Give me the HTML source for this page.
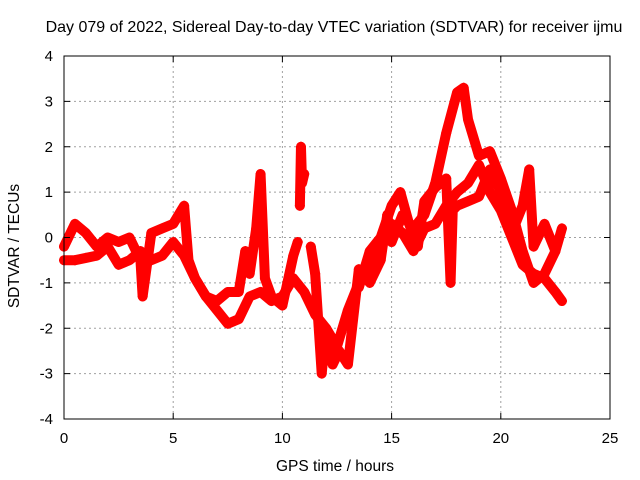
<!DOCTYPE html>
<html><head><meta charset="utf-8"><style>
body{margin:0;background:#fff;}
svg{display:block;font-family:"Liberation Sans",sans-serif;}
</style></head><body>
<svg id="chart" width="640" height="480" viewBox="0 0 640 480">
<text x="334" y="32" font-size="16" text-anchor="middle">Day 079 of 2022, Sidereal Day-to-day VTEC variation (SDTVAR) for receiver ijmu</text>
<g id="grid"></g>
<g id="series"></g>
<rect x="64" y="56" width="546" height="363" fill="none" stroke="#000" stroke-width="1"/>
<g id="ticks"></g>
<text x="335" y="471" font-size="15.5" text-anchor="middle">GPS time / hours</text>
<text transform="translate(19,246) rotate(-90)" font-size="15.5" text-anchor="middle">SDTVAR / TECUs</text>
</svg>
<script>
const xTicks=[0,5,10,15,20,25];
const yTicks=[-4,-3,-2,-1,0,1,2,3,4];
const trackAHours=[0,0.5,1,1.5,2,2.5,3,3.5,4,4.5,5,5.5,6,6.5,7,7.5,8,8.5,9,9.5,10,10.5,11,11.5,12,12.5,13,13.5,14,14.5,15,15.5,16,16.5,17,17.5,18,18.5,19,19.5,20,20.5,21,21.5,22,22.5,22.8];
const trackAValues=[-0.5,-0.5,-0.45,-0.4,-0.2,-0.6,-0.5,-0.3,-0.5,-0.4,-0.1,-0.4,-0.9,-1.3,-1.6,-1.9,-1.8,-1.3,-1.2,-1.4,-1.3,-0.9,-1.2,-1.7,-2.0,-2.4,-1.6,-1.0,-0.6,-0.2,0.3,0.1,-0.3,0.2,0.3,0.7,1.0,1.2,1.6,1.0,0.6,0.0,-0.6,-0.8,-0.9,-1.2,-1.4];
const trackBHours=[0,0.5,1,1.5,2,2.5,3,3.5,3.6,4,4.5,5,5.5,5.7,6,6.5,7,7.5,8,8.3,8.5,8.8,9,9.2,9.5,10,10.5,10.7];
const trackBValues=[-0.2,0.3,0.1,-0.2,0.0,-0.1,0.0,-0.5,-1.3,0.1,0.2,0.3,0.7,-0.5,-0.9,-1.3,-1.4,-1.2,-1.2,-0.3,-0.8,0.2,1.4,-0.9,-1.3,-1.5,-0.4,-0.1];
const trackCHours=[10.8,10.85,10.9,11.0];
const trackCValues=[0.7,2.0,1.2,1.4];
const trackDHours=[11.3,11.5,11.8,12,12.3,12.6,13,13.5,14,14.5,14.8,15,15.5,16,16.5,17,17.5,18,18.3,18.5,19,19.5,20,20.5,21,21.5,22,22.5,22.8];
const trackDValues=[-0.2,-0.8,-3.0,-2.0,-2.8,-2.5,-2.8,-0.7,-1.0,-0.5,0.5,-0.1,0.5,0.2,0.5,1.2,2.3,3.2,3.3,2.6,1.8,1.9,1.3,0.6,-0.3,-1.0,-0.8,-0.3,0.2];
const trackEHours=[13.5,14,14.5,15,15.4,15.8,16.2,16.5,17,17.5,17.7,17.8,18,18.5,19,19.5,20,20.5,21,21.3,21.5,22,22.5];
const trackEValues=[-1.1,-0.3,0.0,0.7,1.0,0.3,-0.2,0.8,1.1,1.3,-1.0,0.6,0.7,0.8,0.9,1.5,1.0,0.1,0.7,1.5,-0.2,0.3,-0.3];
const NS='http://www.w3.org/2000/svg';
const X0=64,X1=610,Y0=419,Y1=56;
function sx(h){return X0+(h-0)/25*(X1-X0);}
function sy(v){return Y0-(v+4)/8*(Y0-Y1);}
function mk(tag,attrs,parent){const e=document.createElementNS(NS,tag);for(const k in attrs)e.setAttribute(k,attrs[k]);parent.appendChild(e);return e;}
const grid=document.getElementById('grid'),ticks=document.getElementById('ticks'),ser=document.getElementById('series');
xTicks.forEach(t=>{
  const x=sx(t);
  if(t>0&&t<25){const l=mk('line',{x1:x,x2:x,y1:Y1,y2:Y0,stroke:'#a0a0a0','stroke-dasharray':'2,3'},grid);
  
  }
  mk('line',{x1:x,x2:x,y1:Y0,y2:Y0-6,stroke:'#000'},ticks);
  mk('line',{x1:x,x2:x,y1:Y1,y2:Y1+6,stroke:'#000'},ticks);
  const tx=mk('text',{x:x,y:Y0+24,'font-size':'15','text-anchor':'middle'},ticks);
  tx.textContent=t;
  
  
});
yTicks.forEach(t=>{
  const y=sy(t);
  if(t>-4&&t<4){const l=mk('line',{x1:X0,x2:X1,y1:y,y2:y,stroke:'#a0a0a0','stroke-dasharray':'2,3'},grid);
  
  }
  mk('line',{x1:X0,x2:X0+6,y1:y,y2:y,stroke:'#000'},ticks);
  mk('line',{x1:X1,x2:X1-6,y1:y,y2:y,stroke:'#000'},ticks);
  const tx=mk('text',{x:X0-11,y:y+5,'font-size':'15','text-anchor':'end'},ticks);
  tx.textContent=t;
  
  
});
function track(hs,vs,name){
  const g=mk('g',{},ser);
  
  
  const pts=hs.map((h,i)=>sx(h)+','+sy(vs[i])).join(' ');
  mk('polyline',{points:pts,fill:'none',stroke:'#ff0000','stroke-width':'10','stroke-linejoin':'round','stroke-linecap':'round'},g);
  hs.forEach((h,i)=>{
    const x=sx(h),y=sy(vs[i]);
    const p=mk('path',{d:`M${x-5},${y}H${x+5}M${x},${y-5}V${y+5}`,stroke:'#ff0000','stroke-width':'1.5'},g);
    
    
  });
}
track(trackAHours,trackAValues,'track-a');
track(trackBHours,trackBValues,'track-b');
track(trackCHours,trackCValues,'track-c');
track(trackDHours,trackDValues,'track-d');
track(trackEHours,trackEValues,'track-e');
</script>
</body></html>
